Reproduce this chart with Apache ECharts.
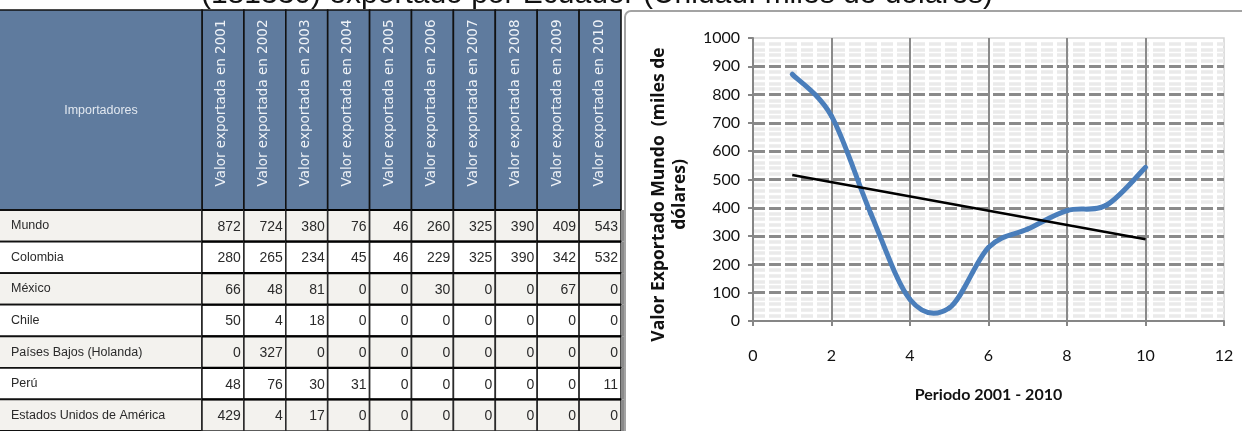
<!DOCTYPE html>
<html>
<head>
<meta charset="utf-8">
<script src="https://cdn.jsdelivr.net/npm/echarts@6/dist/echarts.min.js"></script>
<style>
  html, body { margin: 0; padding: 0; background: #ffffff; }
  #chart { width: 1242px; height: 431px; }
</style>
</head>
<body>
<div id="chart"></div>
<script>
// Exports by destination market, thousands of US dollars
const titleText = '(181330) exportado por Ecuador (Unidad: miles de dólares)';
const firstHeader = 'Importadores';
const yearHeaders = [
  'Valor exportada en 2001', 'Valor exportada en 2002', 'Valor exportada en 2003',
  'Valor exportada en 2004', 'Valor exportada en 2005', 'Valor exportada en 2006',
  'Valor exportada en 2007', 'Valor exportada en 2008', 'Valor exportada en 2009',
  'Valor exportada en 2010'
];
const importers = [
  'Mundo', 'Colombia', 'México', 'Chile',
  'Países Bajos (Holanda)', 'Perú', 'Estados Unidos de América'
];
const mundo        = [872, 724, 380, 76, 46, 260, 325, 390, 409, 543];
const colombia     = [280, 265, 234, 45, 46, 229, 325, 390, 342, 532];
const mexico       = [66, 48, 81, 0, 0, 30, 0, 0, 67, 0];
const chile        = [50, 4, 18, 0, 0, 0, 0, 0, 0, 0];
const paisesBajos  = [0, 327, 0, 0, 0, 0, 0, 0, 0, 0];
const peru         = [48, 76, 30, 31, 0, 0, 0, 0, 0, 11];
const estadosUnidos = [429, 4, 17, 0, 0, 0, 0, 0, 0, 0];

// x position of each year on the chart (period number 1..10)
const periods = [1, 2, 3, 4, 5, 6, 7, 8, 9, 10];

const xAxisTitle = 'Periodo 2001 - 2010';
const yAxisTitle = 'Valor Exportado Mundo  (miles de\ndólares)';

// ---------- derived structures ----------
const tableRows = [mundo, colombia, mexico, chile, paisesBajos, peru, estadosUnidos];
const cellData = [];
tableRows.forEach((row, r) => row.forEach((v, c) => cellData.push([c, r, v])));

// least-squares linear trend of the "Mundo" series
const n = periods.length;
const mx = periods.reduce((a, b) => a + b, 0) / n;
const my = mundo.reduce((a, b) => a + b, 0) / n;
let sxy = 0, sxx = 0;
for (let i = 0; i < n; i++) {
  sxy += (periods[i] - mx) * (mundo[i] - my);
  sxx += (periods[i] - mx) * (periods[i] - mx);
}
const slope = sxy / sxx;
const intercept = my - slope * mx;
const xFirst = periods[0], xLast = periods[n - 1];
const trendData = [[xFirst, intercept + slope * xFirst], [xLast, intercept + slope * xLast]];

// ---------- styling ----------
const HEADER_TOP = 10;
const HEADER_BG = '#5F7B9E';
const ROW_BG = ['#F3F2EE', '#FFFFFF'];
const TABLE_FAMILY = '"Liberation Sans", Arial, sans-serif';
const CHART_FONT = 'Lato, "Open Sans", sans-serif';
const GRID_DASH = [12, 4];

const chart = echarts.init(document.getElementById('chart'), null, { renderer: 'canvas' });

function renderHeader(params, api) {
  const col = api.value(0);
  const c = api.coord([col, 0]);
  const w = api.size([1, 0])[0];
  const cs = params.coordSys;
  const x0 = c[0] - w / 2;
  const h = cs.y - HEADER_TOP;
  const children = [
    { type: 'rect', shape: { x: x0, y: HEADER_TOP, width: w, height: h },
      style: { fill: HEADER_BG, stroke: '#111111', lineWidth: 1.6 } },
    { type: 'text', x: c[0] - 1, y: HEADER_TOP + h / 2 - 7, rotation: Math.PI / 2,
      style: { text: yearHeaders[col], fill: '#EEF2F7', align: 'center', verticalAlign: 'middle',
               fontFamily: '"DejaVu Sans", sans-serif', fontSize: 13.5 } }
  ];
  if (col === 0) {
    children.push(
      { type: 'rect', shape: { x: -2, y: HEADER_TOP, width: x0 + 2, height: h },
        style: { fill: HEADER_BG, stroke: '#111111', lineWidth: 1.6 } },
      { type: 'text', x: x0 / 2, y: HEADER_TOP + h / 2 + 1,
        style: { text: firstHeader, fill: '#E2E8F0', align: 'center', verticalAlign: 'middle',
                 fontFamily: TABLE_FAMILY, fontSize: 12.5 } }
    );
  }
  return { type: 'group', children };
}

function renderName(params, api) {
  const row = api.value(1);
  const c = api.coord([0, row]);
  const h = api.size([0, 1])[1];
  const cs = params.coordSys;
  const y0 = c[1] - h / 2;
  return { type: 'group', children: [
    { type: 'rect', shape: { x: -2, y: y0, width: cs.x + 2, height: h },
      style: { fill: ROW_BG[row % 2], stroke: '#111111', lineWidth: 1.8 } },
    { type: 'text', x: 11, y: c[1],
      style: { text: importers[row], fill: '#2A2A2A', align: 'left', verticalAlign: 'middle',
               fontFamily: TABLE_FAMILY, fontSize: 12.5 } }
  ]};
}

function renderCell(params, api) {
  const col = api.value(0), row = api.value(1), val = api.value(2);
  const c = api.coord([col, row]);
  const s = api.size([1, 1]);
  const x0 = c[0] - s[0] / 2, y0 = c[1] - s[1] / 2;
  const children = [
    { type: 'rect', shape: { x: x0, y: y0, width: s[0], height: s[1] },
      style: { fill: ROW_BG[row % 2], stroke: '#2B2B2B', lineWidth: 1.6 } },
    { type: 'line', shape: { x1: x0, y1: y0, x2: x0 + s[0], y2: y0 },
      style: { stroke: '#000000', lineWidth: 2.2 } },
    { type: 'text', x: x0 + s[0] - 3, y: c[1] + 1,
      style: { text: String(val), fill: '#2A2A2A', align: 'right', verticalAlign: 'middle',
               fontFamily: '"Liberation Sans Narrow", "Liberation Sans", sans-serif', fontSize: 14 } }
  ];
  if (col === yearHeaders.length - 1) {
    children.push({ type: 'line', shape: { x1: x0 + s[0] + 1.5, y1: y0, x2: x0 + s[0] + 1.5, y2: y0 + s[1] },
      style: { stroke: '#8A8A8A', lineWidth: 3 } });
  }
  return { type: 'group', children };
}

// smoothed "Mundo" curve: cubic Bezier segments through the data points
function renderCurve(params, api) {
  const i = params.dataIndex;
  if (i >= n - 1) return null;
  const pts = periods.map((p, k) => api.coord([p, mundo[k]]));
  const p0 = pts[Math.max(i - 1, 0)], p1 = pts[i], p2 = pts[i + 1], p3 = pts[Math.min(i + 2, n - 1)];
  const t = 1 / 6;
  return {
    type: 'bezierCurve',
    shape: {
      x1: p1[0], y1: p1[1], x2: p2[0], y2: p2[1],
      cpx1: p1[0] + (p2[0] - p0[0]) * t, cpy1: p1[1] + (p2[1] - p0[1]) * t,
      cpx2: p2[0] - (p3[0] - p1[0]) * t, cpy2: p2[1] - (p3[1] - p1[1]) * t
    },
    style: { fill: null, stroke: '#4A7EBB', lineWidth: 5, lineCap: 'round' }
  };
}

const option = {
  animation: false,
  backgroundColor: '#ffffff',
  graphic: [
    // frame around the chart panel
    { type: 'rect', z: -10, shape: { x: 625, y: 11, width: 700, height: 500, r: 6 },
      style: { fill: '#ffffff', stroke: '#A3A3A3', lineWidth: 2 } },
    { type: 'text', z: 10, x: 597, y: -5.5,
      style: { text: titleText, fill: '#111111', align: 'center', verticalAlign: 'middle',
               fontFamily: TABLE_FAMILY, fontSize: 30 } }
  ],
  grid: [
    { left: 202, top: 210, width: 419, height: 227, show: false },
    { left: 753, top: 38, right: 18, bottom: 110, show: true,
      backgroundColor: '#FFFFFF', borderColor: '#D4D4D4', borderWidth: 1.5 }
  ],
  xAxis: [
    { type: 'category', gridIndex: 0, data: yearHeaders, show: false },
    { type: 'value', gridIndex: 1, min: 0, max: 12, interval: 2,
      name: xAxisTitle, nameLocation: 'middle', nameGap: 66,
      nameTextStyle: { fontFamily: CHART_FONT, fontWeight: 'bold', fontSize: 16, color: '#111' },
      axisLine: { show: true, lineStyle: { color: '#868686', width: 2 } },
      axisTick: { show: true, length: 5, lineStyle: { color: '#868686', width: 2 } },
      axisLabel: { margin: 27, fontFamily: CHART_FONT, fontSize: 16, color: '#111' },
      splitLine: { show: true, showMinLine: false, showMaxLine: false,
                   lineStyle: { color: '#8A8A8A', width: 2 } } }
  ],
  yAxis: [
    { type: 'category', gridIndex: 0, data: importers, inverse: true, show: false },
    { type: 'value', gridIndex: 1, min: 0, max: 1000, interval: 100,
      name: yAxisTitle, nameLocation: 'middle', nameGap: 62, nameRotate: 90,
      nameTextStyle: { fontFamily: '"Open Sans", Lato, sans-serif', fontWeight: 'bold', fontSize: 17.5,
                       color: '#111', lineHeight: 21, align: 'center', padding: [0, 30, 0, 0] },
      axisLine: { show: true, lineStyle: { color: '#868686', width: 2 } },
      axisTick: { show: true, length: 5, lineStyle: { color: '#868686', width: 2 } },
      axisLabel: { margin: 13, fontFamily: CHART_FONT, fontSize: 16, color: '#111',
                   formatter: v => String(v) },
      splitLine: { show: true, showMinLine: false, showMaxLine: false,
                   lineStyle: { color: '#8A8A8A', width: 3, type: GRID_DASH } },
      minorTick: { show: false, splitNumber: 5 },
      minorSplitLine: { show: true, lineStyle: { color: '#EAEAEA', width: 3.5, type: GRID_DASH } } }
  ],
  series: [
    { type: 'custom', name: 'header', xAxisIndex: 0, yAxisIndex: 0, z: 3,
      data: yearHeaders.map((_, i) => [i, 0]), encode: { x: 0, y: 1 },
      renderItem: renderHeader, silent: true },
    { type: 'custom', name: 'importers', xAxisIndex: 0, yAxisIndex: 0, z: 3,
      data: importers.map((_, i) => [0, i]), encode: { x: 0, y: 1 },
      renderItem: renderName, silent: true },
    { type: 'custom', name: 'values', xAxisIndex: 0, yAxisIndex: 0, z: 3,
      data: cellData, encode: { x: 0, y: 1 },
      renderItem: renderCell, silent: true },
    { type: 'custom', name: 'Mundo', xAxisIndex: 1, yAxisIndex: 1, z: 5,
      data: periods.map((p, i) => [p, mundo[i]]), encode: { x: 0, y: 1 },
      renderItem: renderCurve, silent: true },
    { type: 'line', name: 'Tendencia', xAxisIndex: 1, yAxisIndex: 1, z: 6,
      data: trendData, showSymbol: false, symbol: 'none',
      lineStyle: { color: '#000000', width: 2.5 } }
  ]
};

chart.setOption(option);
</script>
</body>
</html>
